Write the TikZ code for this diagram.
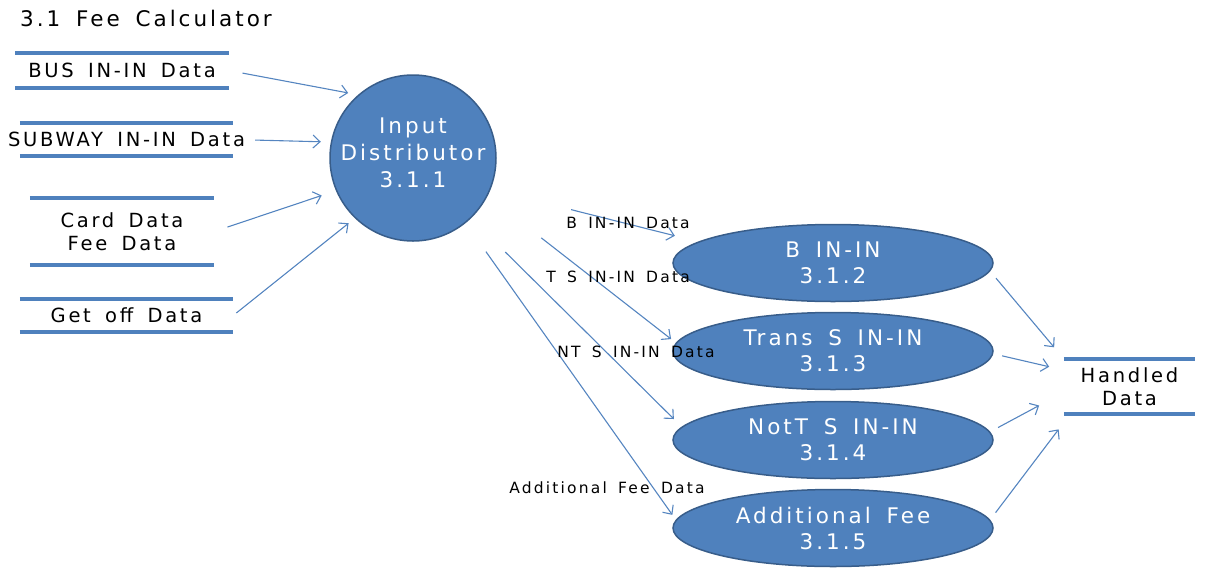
\documentclass[tikz,border=0pt]{standalone}
\usepackage{fontspec}
\setmainfont{DejaVu Sans}[LetterSpace=14, WordSpace=1.6]
\usetikzlibrary{shapes.geometric,arrows.meta}
\definecolor{procblue}{HTML}{4F81BD}
\definecolor{procedge}{HTML}{385D8A}
\definecolor{flowblue}{HTML}{5585C0}

\begin{document}
\begin{tikzpicture}[x=1pt, y=-1pt,
    proc/.style={circle, draw=procedge, fill=procblue, line width=1.5pt, text=white,
        minimum size=166pt, inner sep=0pt, align=center, font=\fontsize{21.5}{27}\selectfont},
    subproc/.style={ellipse, draw=procedge, fill=procblue, line width=1.5pt, text=white,
        minimum width=320pt, minimum height=77pt, inner sep=0pt, align=center,
        font=\fontsize{21.5}{26}\selectfont},
    storeline/.style={draw=procblue, line width=3.5pt},
    store/.style={inner sep=0pt, align=center, font=\fontsize{19.5}{23.5}\selectfont,
        append after command={(\tikzlastnode.north west) edge[storeline] (\tikzlastnode.north east)
            (\tikzlastnode.south west) edge[storeline] (\tikzlastnode.south east)}},
    flow/.style={draw=flowblue, line width=1.1pt, -{Straight Barb[length=7pt,width=13pt]}},
    flowlabel/.style={inner sep=0pt, font=\fontsize{15.5}{18}\selectfont}]
    \useasboundingbox (0,0) rectangle (1208,574);

    % Title
    \node[anchor=west, inner sep=0pt, font=\fontsize{21.5}{26}\selectfont] (title) at (20,18) {3.1 Fee Calculator};

    % Input data stores
    \node[store, minimum width=213pt, minimum height=35pt] (bus) at (122,70.5) {BUS IN-IN Data};
    \node[store, minimum width=213pt, minimum height=33pt] (subway) at (126.5,139.5) {\makebox[213pt]{SUBWAY IN-IN Data}};
    \node[store, minimum width=184pt, minimum height=67pt] (card) at (122,231.5) {Card Data\\Fee Data};
    \node[store, minimum width=213pt, minimum height=33pt] (getoff) at (126.5,315.5) {Get off Data};

    % Main process
    \node[proc] (dist) at (413,158) {Input\\Distributor\\3.1.1\rule[-10pt]{0pt}{0pt}};

    % Sub processes
    \node[subproc] (b) at (833,263) {B IN-IN\\3.1.2};
    \node[subproc] (ts) at (833,351) {Trans S IN-IN\\3.1.3};
    \node[subproc] (nt) at (833,440) {NotT S IN-IN\\3.1.4};
    \node[subproc] (ad) at (833,528) {Additional Fee\\3.1.5};

    % Output data store
    \node[store, minimum width=131pt, minimum height=55pt] (hd) at (1129.5,386.5) {Handled\\Data};

    % Flows into the distributor
    \draw[flow, shorten <=14pt, shorten >=10pt] (bus.east) -- (dist.131);
    \draw[flow, shorten <=22pt, shorten >=10pt] (subway.east) -- (dist.169);
    \draw[flow, shorten <=14pt, shorten >=15pt] (card.east) -- (dist.203);
    \draw[flow, shorten <=4pt, shorten >=8pt] (getoff.east) -- (dist.226);

    % Flows to the sub processes
    \draw[flow, shorten <=83pt, shorten >=24pt] (dist.338) -- (b.171);
    \draw[flow, shorten <=68pt, shorten >=6pt] (dist.333) -- (ts.177);
    \draw[flow, shorten <=48pt, shorten >=11pt] (dist.314) -- (nt.175);
    \draw[flow, shorten <=35pt, shorten >=6pt] (dist.309) -- (ad.177);

    % Flow labels
    \node[flowlabel] (lb) at (628,223) {B IN-IN Data};
    \node[flowlabel] (lts) at (618,277) {T S IN-IN Data};
    \node[flowlabel] (lnt) at (636,352) {NT S IN-IN Data};
    \node[flowlabel] (lad) at (607,488) {Additional Fee Data};

    % Flows to the handled data
    \draw[flow, shorten <=9pt, shorten >=15pt] (b.357) -- (hd.north west);
    \draw[flow, shorten <=9pt, shorten >=15pt] (ts.359) -- (hd.166);
    \draw[flow, shorten <=9pt, shorten >=28pt] (nt.3) -- (hd.185);
    \draw[flow, shorten <=9pt, shorten >=19pt] (ad.3) -- (hd.205);
\end{tikzpicture}
\end{document}
